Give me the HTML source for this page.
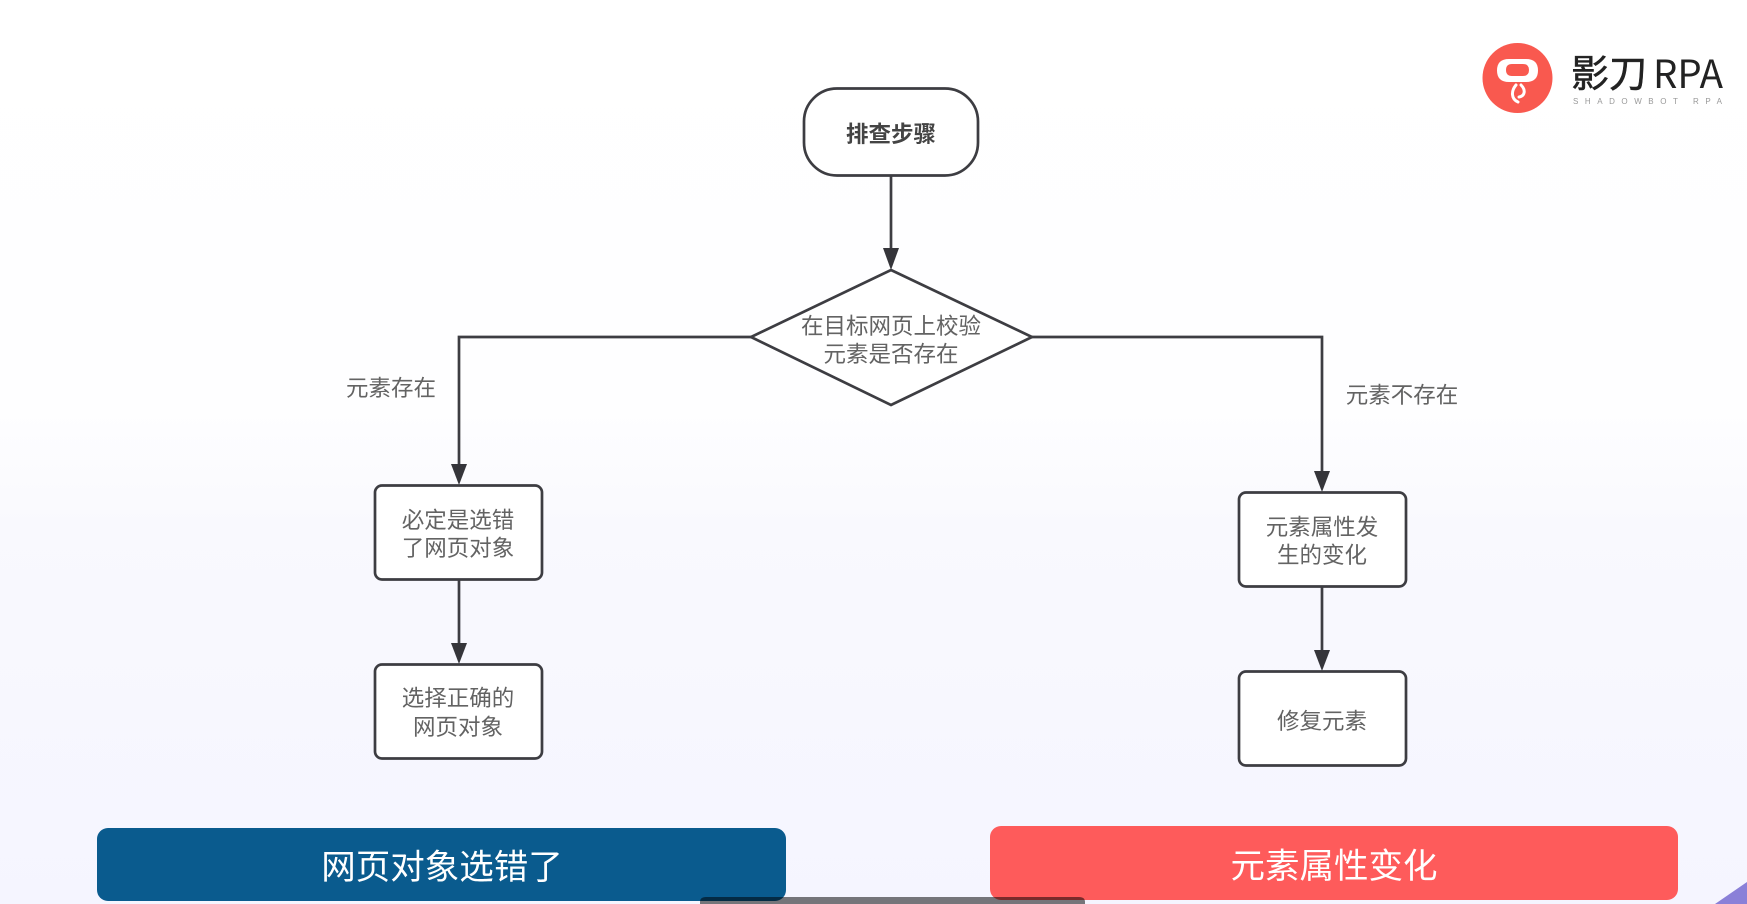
<!DOCTYPE html>
<html lang="zh">
<head>
<meta charset="utf-8">
<title>排查步骤</title>
<style>
html,body{margin:0;padding:0;width:1747px;height:904px;overflow:hidden;background:#fff}
svg{display:block;position:absolute;left:0;top:0}
text{font-family:"Liberation Sans","Noto Sans CJK SC",sans-serif;text-anchor:middle}
.t{font-size:22.5px;fill:#636363}
.b{font-size:22.5px;fill:#444;font-weight:700}
.w{font-size:34.5px;fill:#fff}
.box{fill:#fff;stroke:#3d3d42;stroke-width:2.7}
.ln{fill:none;stroke:#3d3d42;stroke-width:2.7}
.ah{fill:#35353a}
</style>
</head>
<body>
<svg width="1747" height="904" viewBox="0 0 1747 904" xmlns="http://www.w3.org/2000/svg">
<defs>
<linearGradient id="bg" x1="0" y1="0" x2="0" y2="1">
<stop offset="0" stop-color="#ffffff"/>
<stop offset="0.45" stop-color="#fefeff"/>
<stop offset="0.58" stop-color="#f9f9fe"/>
<stop offset="1" stop-color="#f5f5ff"/>
</linearGradient>
</defs>
<rect width="1747" height="904" fill="url(#bg)"/>

<!-- connectors -->
<path class="ln" d="M891 176V250"/>
<path class="ah" d="M883 248H899L891 270Z"/>
<path class="ln" d="M751 337H459V466"/>
<path class="ah" d="M451 464H467L459 485Z"/>
<path class="ln" d="M1032 337H1322V473"/>
<path class="ah" d="M1314 471H1330L1322 492Z"/>
<path class="ln" d="M459 580V645"/>
<path class="ah" d="M451 643H467L459 664Z"/>
<path class="ln" d="M1322 587V652"/>
<path class="ah" d="M1314 650H1330L1322 671Z"/>

<!-- nodes -->
<rect class="box" x="804" y="88.500" width="174" height="87" rx="33" ry="33"/>
<text class="b" x="891" y="142">排查步骤</text>

<path class="box" d="M891 270L1032 337L891 405L751 337Z"/>
<text class="t" x="891" y="334">在目标网页上校验</text>
<text class="t" x="891" y="362">元素是否存在</text>

<text class="t" x="391" y="396">元素存在</text>
<text class="t" x="1402" y="403">元素不存在</text>

<rect class="box" x="375" y="485.500" width="167" height="94" rx="7" ry="7"/>
<text class="t" x="458" y="528">必定是选错</text>
<text class="t" x="458" y="556">了网页对象</text>

<rect class="box" x="375" y="664.500" width="167" height="94" rx="7" ry="7"/>
<text class="t" x="458" y="706">选择正确的</text>
<text class="t" x="458" y="735">网页对象</text>

<rect class="box" x="1239" y="492.500" width="167" height="94" rx="7" ry="7"/>
<text class="t" x="1322" y="535">元素属性发</text>
<text class="t" x="1322" y="563">生的变化</text>

<rect class="box" x="1239" y="671.500" width="167" height="94" rx="7" ry="7"/>
<text class="t" x="1322" y="729">修复元素</text>

<!-- logo -->
<circle cx="1517.500" cy="78" r="35" fill="#f9594f"/>
<path fill="#fff" fill-rule="evenodd" d="M1509 59H1526Q1538 59 1538 70.500Q1538 82 1526 82H1509Q1497 82 1497 70.500Q1497 59 1509 59ZM1512 64Q1506 64 1506 70Q1506 76 1512 76H1523Q1529 76 1529 70Q1529 64 1523 64Z"/>
<path d="M1516 85C1511 91 1511 99 1518 102M1521 85C1526 90 1525 96 1519 97" fill="none" stroke="#fff" stroke-width="3" stroke-linecap="round"/>
<text x="1609" y="87" style="font-size:38px;fill:#222;stroke:#222;stroke-width:.5">影刀</text>
<text x="1653" y="88" style="text-anchor:start;font-family:'Noto Sans CJK SC',sans-serif;font-size:39px;fill:#222" textLength="70" lengthAdjust="spacingAndGlyphs">RPA</text>
<text x="1573" y="104" style="text-anchor:start;font-size:8px;fill:#999" textLength="149">SHADOWBOT RPA</text>

<!-- banners -->
<rect x="97" y="828" width="689" height="73" rx="11" ry="11" fill="#0a5b8e"/>
<text class="w" x="442" y="879">网页对象选错了</text>
<rect x="990" y="826" width="688" height="74" rx="11" ry="11" fill="#fe5b5b"/>
<text class="w" x="1334" y="878">元素属性变化</text>

<!-- overlays at the bottom edge -->
<path d="M700 904V902Q700 897 706 897H1079Q1085 897 1085 902V904Z" fill="#000" fill-opacity="0.52"/>
<path d="M1715 904L1747 882V904Z" fill="#8a80d8"/>
</svg>
</body>
</html>
